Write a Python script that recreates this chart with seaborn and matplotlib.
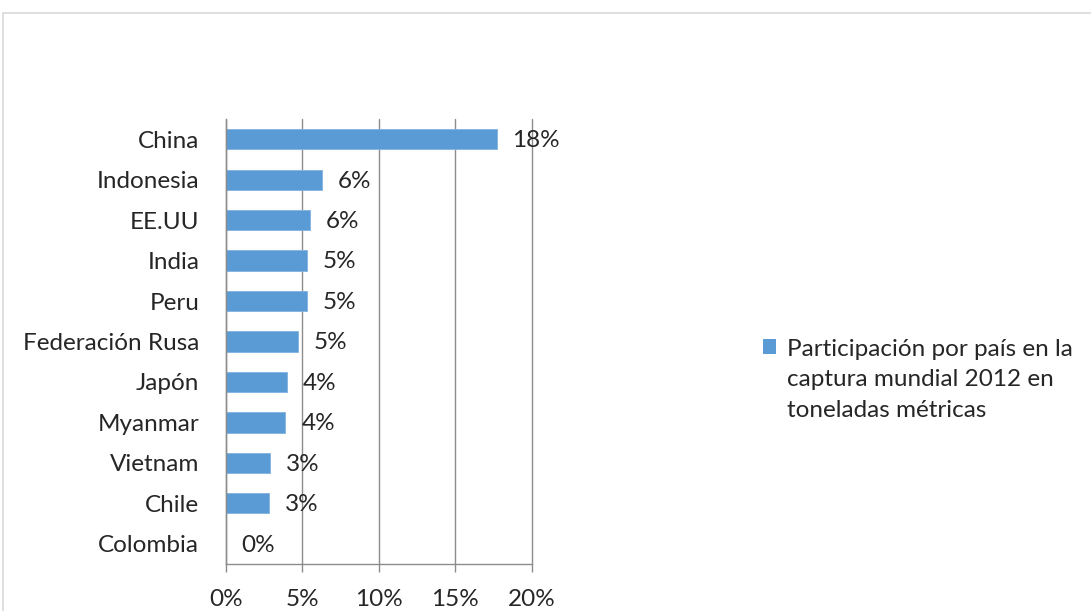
import matplotlib
matplotlib.use("Agg")
import matplotlib.pyplot as plt
import seaborn as sns
import pandas as pd
from matplotlib.patches import Rectangle
from matplotlib.ticker import FuncFormatter, FixedLocator

paises = ["China", "Indonesia", "EE.UU", "India", "Peru", "Federación Rusa",
          "Japón", "Myanmar", "Vietnam", "Chile", "Colombia"]
participacion = [17.7, 6.3, 5.5, 5.3, 5.3, 4.7, 4.0, 3.9, 2.9, 2.8, 0.0]
ticks_x = [0, 5, 10, 15, 20]
serie = "Participación por país en la\ncaptura mundial 2012 en\ntoneladas métricas"

df = pd.DataFrame({"pais": paises, "valor": participacion})

sns.set_theme(style="white")
plt.rcParams["font.family"] = ["Lato", "DejaVu Sans"]

FS = 17.5
TXT = "#262626"
W, H = 1091, 611
fig = plt.figure(figsize=(W / 100, H / 100), dpi=100)
fig.patch.set_facecolor("white")

# outer chart frame
fig.add_artist(Rectangle((3 / W, -0.1), 1.2, (H - 13) / H + 0.1,
                         transform=fig.transFigure, fill=False,
                         edgecolor="#d9d9d9", linewidth=1.2))

ax = fig.add_axes([225.7 / W, 47 / H, 306 / W, 445 / H])
color = "#5b9bd5"
sns.barplot(data=df, x="valor", y="pais", orient="h", color=color,
            width=0.5, saturation=1, ax=ax, edgecolor="#7fb2e0", linewidth=0.6)

ax.set_xlim(0, 20)
ax.set_ylim(len(paises) - 0.5, -0.5)
ax.set_xlabel("")
ax.set_ylabel("")

grid_c = "#8c8c8c"
ax.xaxis.set_major_locator(FixedLocator(ticks_x))
ax.xaxis.set_major_formatter(FuncFormatter(lambda v, p: f"{v:.0f}%"))
ax.grid(axis="x", color=grid_c, linewidth=1)
for gl in ax.get_xgridlines():
    gl.set_clip_on(False)
ax.set_axisbelow(True)

# category ticks sit between bars
ax.set_yticks(range(len(paises)))
ax.set_yticklabels(paises)
ax.set_yticks([i - 0.5 for i in range(len(paises) + 1)], minor=True)
ax.tick_params(axis="y", which="major", length=0, pad=19, labelsize=FS,
               labelcolor=TXT)
ax.tick_params(axis="y", which="minor", length=6, width=1, color=grid_c,
               direction="out")
ax.tick_params(axis="x", which="major", length=6, width=1, color=grid_c,
               direction="out", pad=12, labelsize=FS, labelcolor=TXT,
               bottom=True)

for s in ["top", "right"]:
    ax.spines[s].set_visible(False)
for s in ["left", "bottom"]:
    ax.spines[s].set_color(grid_c)
    ax.spines[s].set_linewidth(1)

for i, v in enumerate(participacion):
    ax.annotate(f"{v:.0f}%", xy=(v, i), xytext=(11.5, -1),
                textcoords="offset points", va="center", ha="left",
                fontsize=FS, color=TXT)

handle = Rectangle((0, 0), 1, 1, facecolor=color, edgecolor="none")
leg = fig.legend([handle], [serie], loc="upper left",
                 bbox_to_anchor=(746 / W, 1 - 322 / H), frameon=False,
                 fontsize=FS, handlelength=0.55, handleheight=0.55,
                 handletextpad=0.45, labelcolor=TXT, borderpad=0.2)
leg.get_texts()[0].set_linespacing(1.55)
# keep the swatch next to the first line of the label
for col in leg._legend_handle_box.get_children():
    for item in col.get_children():
        item.align = "top"

fig.savefig("out.png", dpi=100, facecolor="white")
